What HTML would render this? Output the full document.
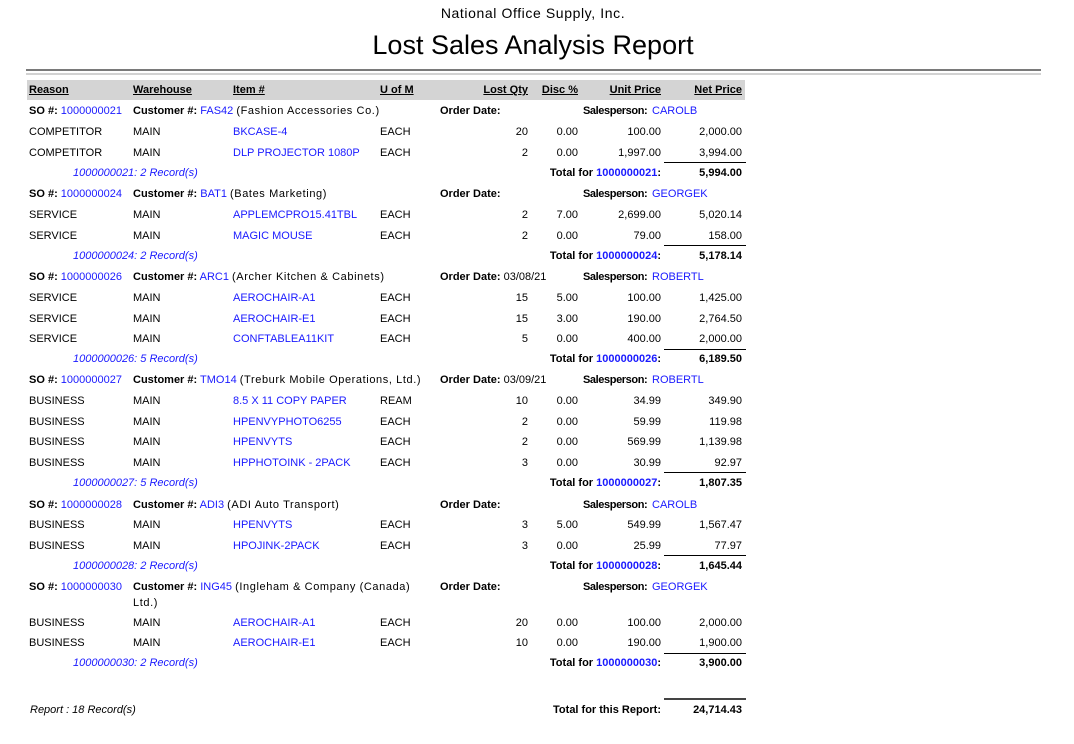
<!DOCTYPE html>
<html><head><meta charset="utf-8">
<style>
html,body{margin:0;padding:0;background:#fff}
#pg{position:relative;width:1074px;height:744px;overflow:hidden;background:#fff}
.t{position:absolute;font-family:"Liberation Sans",Arial,sans-serif;font-size:11px;line-height:14px;white-space:nowrap;color:#000}
.b{font-weight:bold}
.bl{color:#1a1aff}
.i{font-style:italic}
.u{text-decoration:underline}
.ds{letter-spacing:.6px}
.sp{letter-spacing:-.4px}
.q{right:546px;text-align:right}
.d{right:496px;text-align:right}
.p{right:413px;text-align:right}
.n{right:332px;text-align:right}
.ln{position:absolute;left:664px;width:82px;height:1px;background:#000}
</style></head><body><div id="pg">

<div class="t" style="left:0;width:1066px;text-align:center;top:4px;font-size:14px;line-height:18px;letter-spacing:.6px">National Office Supply, Inc.</div>
<div class="t" style="left:0;width:1066px;text-align:center;top:30px;font-size:27px;line-height:30px">Lost Sales Analysis Report</div>

<div style="position:absolute;left:26px;top:69px;width:1015px;height:2px;background:#7a7a7a"></div>
<div style="position:absolute;left:26px;top:73px;width:1015px;height:2px;background:#d2d2d2"></div>

<div style="position:absolute;left:27px;top:80px;width:718px;height:20px;background:#d4d4d4"></div>
<div class="t b u" style="left:29px;top:83px">Reason</div>
<div class="t b u" style="left:133px;top:83px">Warehouse</div>
<div class="t b u" style="left:233px;top:83px">Item #</div>
<div class="t b u" style="left:380px;top:83px">U of M</div>
<div class="t b u q" style="top:83px">Lost Qty</div>
<div class="t b u d" style="top:83px">Disc %</div>
<div class="t b u p" style="top:83px">Unit Price</div>
<div class="t b u n" style="top:83px">Net Price</div>

<!-- Group 21 -->
<div class="t" style="left:29px;top:104px"><b>SO #:</b> <span class="bl">1000000021</span></div>
<div class="t" style="left:133px;top:104px"><b>Customer #:</b> <span class="bl">FAS42</span> <span class="ds">(Fashion Accessories Co.)</span></div>
<div class="t b" style="left:440px;top:104px">Order Date:</div>
<div class="t b sp" style="left:583px;top:104px">Salesperson:</div>
<div class="t bl" style="left:652px;top:104px">CAROLB</div>

<div class="t" style="left:29px;top:125px">COMPETITOR</div><div class="t" style="left:133px;top:125px">MAIN</div><div class="t bl" style="left:233px;top:125px">BKCASE-4</div><div class="t" style="left:380px;top:125px">EACH</div><div class="t q" style="top:125px">20</div><div class="t d" style="top:125px">0.00</div><div class="t p" style="top:125px">100.00</div><div class="t n" style="top:125px">2,000.00</div>
<div class="t" style="left:29px;top:146px">COMPETITOR</div><div class="t" style="left:133px;top:146px">MAIN</div><div class="t bl" style="left:233px;top:146px">DLP PROJECTOR 1080P</div><div class="t" style="left:380px;top:146px">EACH</div><div class="t q" style="top:146px">2</div><div class="t d" style="top:146px">0.00</div><div class="t p" style="top:146px">1,997.00</div><div class="t n" style="top:146px">3,994.00</div>
<div class="ln" style="top:162px"></div>
<div class="t i bl" style="left:73px;top:166px">1000000021: 2 Record(s)</div>
<div class="t b p" style="top:166px">Total for <span class="bl">1000000021</span>:</div>
<div class="t b n" style="top:166px">5,994.00</div>

<!-- Group 24 -->
<div class="t" style="left:29px;top:187px"><b>SO #:</b> <span class="bl">1000000024</span></div>
<div class="t" style="left:133px;top:187px"><b>Customer #:</b> <span class="bl">BAT1</span> <span class="ds">(Bates Marketing)</span></div>
<div class="t b" style="left:440px;top:187px">Order Date:</div>
<div class="t b sp" style="left:583px;top:187px">Salesperson:</div>
<div class="t bl" style="left:652px;top:187px">GEORGEK</div>

<div class="t" style="left:29px;top:208px">SERVICE</div><div class="t" style="left:133px;top:208px">MAIN</div><div class="t bl" style="left:233px;top:208px">APPLEMCPRO15.41TBL</div><div class="t" style="left:380px;top:208px">EACH</div><div class="t q" style="top:208px">2</div><div class="t d" style="top:208px">7.00</div><div class="t p" style="top:208px">2,699.00</div><div class="t n" style="top:208px">5,020.14</div>
<div class="t" style="left:29px;top:229px">SERVICE</div><div class="t" style="left:133px;top:229px">MAIN</div><div class="t bl" style="left:233px;top:229px">MAGIC MOUSE</div><div class="t" style="left:380px;top:229px">EACH</div><div class="t q" style="top:229px">2</div><div class="t d" style="top:229px">0.00</div><div class="t p" style="top:229px">79.00</div><div class="t n" style="top:229px">158.00</div>
<div class="ln" style="top:245px"></div>
<div class="t i bl" style="left:73px;top:249px">1000000024: 2 Record(s)</div>
<div class="t b p" style="top:249px">Total for <span class="bl">1000000024</span>:</div>
<div class="t b n" style="top:249px">5,178.14</div>

<!-- Group 26 -->
<div class="t" style="left:29px;top:270px"><b>SO #:</b> <span class="bl">1000000026</span></div>
<div class="t" style="left:133px;top:270px"><b>Customer #:</b> <span class="bl">ARC1</span> <span class="ds">(Archer Kitchen &amp; Cabinets)</span></div>
<div class="t" style="left:440px;top:270px"><b>Order Date:</b> 03/08/21</div>
<div class="t b sp" style="left:583px;top:270px">Salesperson:</div>
<div class="t bl" style="left:652px;top:270px">ROBERTL</div>

<div class="t" style="left:29px;top:291px">SERVICE</div><div class="t" style="left:133px;top:291px">MAIN</div><div class="t bl" style="left:233px;top:291px">AEROCHAIR-A1</div><div class="t" style="left:380px;top:291px">EACH</div><div class="t q" style="top:291px">15</div><div class="t d" style="top:291px">5.00</div><div class="t p" style="top:291px">100.00</div><div class="t n" style="top:291px">1,425.00</div>
<div class="t" style="left:29px;top:312px">SERVICE</div><div class="t" style="left:133px;top:312px">MAIN</div><div class="t bl" style="left:233px;top:312px">AEROCHAIR-E1</div><div class="t" style="left:380px;top:312px">EACH</div><div class="t q" style="top:312px">15</div><div class="t d" style="top:312px">3.00</div><div class="t p" style="top:312px">190.00</div><div class="t n" style="top:312px">2,764.50</div>
<div class="t" style="left:29px;top:332px">SERVICE</div><div class="t" style="left:133px;top:332px">MAIN</div><div class="t bl" style="left:233px;top:332px">CONFTABLEA11KIT</div><div class="t" style="left:380px;top:332px">EACH</div><div class="t q" style="top:332px">5</div><div class="t d" style="top:332px">0.00</div><div class="t p" style="top:332px">400.00</div><div class="t n" style="top:332px">2,000.00</div>
<div class="ln" style="top:349px"></div>
<div class="t i bl" style="left:73px;top:352px">1000000026: 5 Record(s)</div>
<div class="t b p" style="top:352px">Total for <span class="bl">1000000026</span>:</div>
<div class="t b n" style="top:352px">6,189.50</div>

<!-- Group 27 -->
<div class="t" style="left:29px;top:373px"><b>SO #:</b> <span class="bl">1000000027</span></div>
<div class="t" style="left:133px;top:373px"><b>Customer #:</b> <span class="bl">TMO14</span> <span class="ds">(Treburk Mobile Operations, Ltd.)</span></div>
<div class="t" style="left:440px;top:373px"><b>Order Date:</b> 03/09/21</div>
<div class="t b sp" style="left:583px;top:373px">Salesperson:</div>
<div class="t bl" style="left:652px;top:373px">ROBERTL</div>

<div class="t" style="left:29px;top:394px">BUSINESS</div><div class="t" style="left:133px;top:394px">MAIN</div><div class="t bl" style="left:233px;top:394px">8.5 X 11 COPY PAPER</div><div class="t" style="left:380px;top:394px">REAM</div><div class="t q" style="top:394px">10</div><div class="t d" style="top:394px">0.00</div><div class="t p" style="top:394px">34.99</div><div class="t n" style="top:394px">349.90</div>
<div class="t" style="left:29px;top:415px">BUSINESS</div><div class="t" style="left:133px;top:415px">MAIN</div><div class="t bl" style="left:233px;top:415px">HPENVYPHOTO6255</div><div class="t" style="left:380px;top:415px">EACH</div><div class="t q" style="top:415px">2</div><div class="t d" style="top:415px">0.00</div><div class="t p" style="top:415px">59.99</div><div class="t n" style="top:415px">119.98</div>
<div class="t" style="left:29px;top:435px">BUSINESS</div><div class="t" style="left:133px;top:435px">MAIN</div><div class="t bl" style="left:233px;top:435px">HPENVYTS</div><div class="t" style="left:380px;top:435px">EACH</div><div class="t q" style="top:435px">2</div><div class="t d" style="top:435px">0.00</div><div class="t p" style="top:435px">569.99</div><div class="t n" style="top:435px">1,139.98</div>
<div class="t" style="left:29px;top:456px">BUSINESS</div><div class="t" style="left:133px;top:456px">MAIN</div><div class="t bl" style="left:233px;top:456px">HPPHOTOINK - 2PACK</div><div class="t" style="left:380px;top:456px">EACH</div><div class="t q" style="top:456px">3</div><div class="t d" style="top:456px">0.00</div><div class="t p" style="top:456px">30.99</div><div class="t n" style="top:456px">92.97</div>
<div class="ln" style="top:472px"></div>
<div class="t i bl" style="left:73px;top:476px">1000000027: 5 Record(s)</div>
<div class="t b p" style="top:476px">Total for <span class="bl">1000000027</span>:</div>
<div class="t b n" style="top:476px">1,807.35</div>

<!-- Group 28 -->
<div class="t" style="left:29px;top:498px"><b>SO #:</b> <span class="bl">1000000028</span></div>
<div class="t" style="left:133px;top:498px"><b>Customer #:</b> <span class="bl">ADI3</span> <span class="ds">(ADI Auto Transport)</span></div>
<div class="t b" style="left:440px;top:498px">Order Date:</div>
<div class="t b sp" style="left:583px;top:498px">Salesperson:</div>
<div class="t bl" style="left:652px;top:498px">CAROLB</div>

<div class="t" style="left:29px;top:518px">BUSINESS</div><div class="t" style="left:133px;top:518px">MAIN</div><div class="t bl" style="left:233px;top:518px">HPENVYTS</div><div class="t" style="left:380px;top:518px">EACH</div><div class="t q" style="top:518px">3</div><div class="t d" style="top:518px">5.00</div><div class="t p" style="top:518px">549.99</div><div class="t n" style="top:518px">1,567.47</div>
<div class="t" style="left:29px;top:539px">BUSINESS</div><div class="t" style="left:133px;top:539px">MAIN</div><div class="t bl" style="left:233px;top:539px">HPOJINK-2PACK</div><div class="t" style="left:380px;top:539px">EACH</div><div class="t q" style="top:539px">3</div><div class="t d" style="top:539px">0.00</div><div class="t p" style="top:539px">25.99</div><div class="t n" style="top:539px">77.97</div>
<div class="ln" style="top:555px"></div>
<div class="t i bl" style="left:73px;top:559px">1000000028: 2 Record(s)</div>
<div class="t b p" style="top:559px">Total for <span class="bl">1000000028</span>:</div>
<div class="t b n" style="top:559px">1,645.44</div>

<!-- Group 30 -->
<div class="t" style="left:29px;top:580px"><b>SO #:</b> <span class="bl">1000000030</span></div>
<div class="t" style="left:133px;top:580px"><b>Customer #:</b> <span class="bl">ING45</span> <span class="ds">(Ingleham &amp; Company (Canada)</span></div>
<div class="t ds" style="left:133px;top:596px">Ltd.)</div>
<div class="t b" style="left:440px;top:580px">Order Date:</div>
<div class="t b sp" style="left:583px;top:580px">Salesperson:</div>
<div class="t bl" style="left:652px;top:580px">GEORGEK</div>

<div class="t" style="left:29px;top:616px">BUSINESS</div><div class="t" style="left:133px;top:616px">MAIN</div><div class="t bl" style="left:233px;top:616px">AEROCHAIR-A1</div><div class="t" style="left:380px;top:616px">EACH</div><div class="t q" style="top:616px">20</div><div class="t d" style="top:616px">0.00</div><div class="t p" style="top:616px">100.00</div><div class="t n" style="top:616px">2,000.00</div>
<div class="t" style="left:29px;top:636px">BUSINESS</div><div class="t" style="left:133px;top:636px">MAIN</div><div class="t bl" style="left:233px;top:636px">AEROCHAIR-E1</div><div class="t" style="left:380px;top:636px">EACH</div><div class="t q" style="top:636px">10</div><div class="t d" style="top:636px">0.00</div><div class="t p" style="top:636px">190.00</div><div class="t n" style="top:636px">1,900.00</div>
<div class="ln" style="top:653px"></div>
<div class="t i bl" style="left:73px;top:656px">1000000030: 2 Record(s)</div>
<div class="t b p" style="top:656px">Total for <span class="bl">1000000030</span>:</div>
<div class="t b n" style="top:656px">3,900.00</div>

<!-- Report footer -->
<div class="ln" style="top:698px;height:2px;background:#444"></div>
<div class="t i" style="left:30px;top:703px">Report : 18 Record(s)</div>
<div class="t b p" style="top:703px">Total for this Report:</div>
<div class="t b n" style="top:703px">24,714.43</div>

</div></body></html>
